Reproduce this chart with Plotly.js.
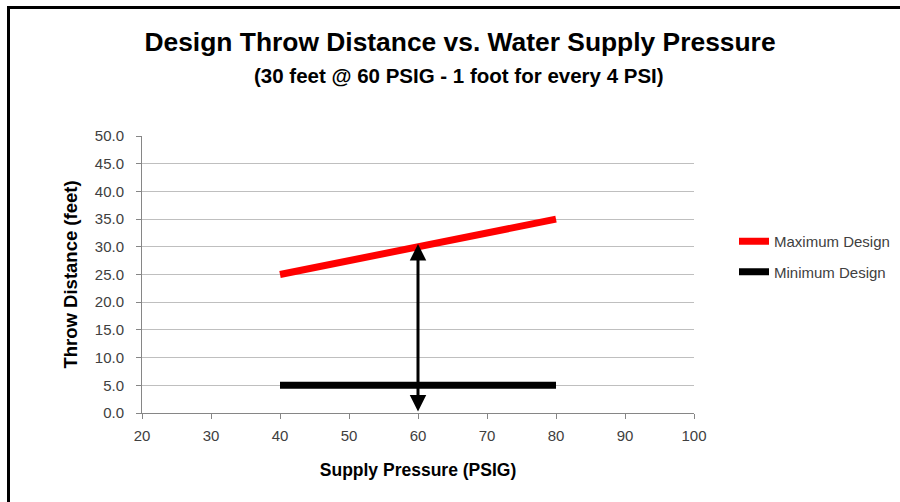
<!DOCTYPE html>
<html>
<head>
<meta charset="utf-8">
<script src="https://cdn.plot.ly/plotly-3.0.1.min.js"></script>
<style>
  html, body { margin: 0; padding: 0; background: #fff; overflow: hidden; }
  #wrap { position: relative; width: 900px; height: 502px; }
  #chart { position: absolute; left: 0; top: 0; width: 900px; height: 502px; }
  #frame { position: absolute; left: 7px; top: 6px; width: 1000px; height: 600px;
           border-left: 3px solid #000; border-top: 3px solid #000; pointer-events: none; }
</style>
</head>
<body>
<div id="wrap">
  <div id="chart"></div>
  <div id="frame"></div>
</div>
<script>
// Data
const pressure = [40, 80];
const maxDesign = [25, 35];
const minDesign = [5, 5];
const seriesNames = ['Maximum Design', 'Minimum Design'];
const arrowX = 60;
const arrowY = [0, 30.5];
const xTicks = [20, 30, 40, 50, 60, 70, 80, 90, 100];
const yTicks = [0, 5, 10, 15, 20, 25, 30, 35, 40, 45, 50];

const FONT = '"Liberation Sans", Arial, sans-serif';
const GRAY = '#404040';

const traces = [
  { x: pressure, y: maxDesign, name: seriesNames[0], mode: 'lines', legendgroup: 'a',
    line: { color: '#ff0000', width: 7 }, hoverinfo: 'x+y' },
  { x: pressure, y: minDesign, name: seriesNames[1], mode: 'lines', legendgroup: 'b',
    line: { color: '#000000', width: 7 }, hoverinfo: 'x+y' }
];

const L = 142, R = 694, T = 136, B = 413;
const PW = R - L, PH = B - T;

const layout = {
  width: 900, height: 502,
  margin: { l: L, r: 900 - R, t: T, b: 502 - B, autoexpand: false },
  paper_bgcolor: '#ffffff', plot_bgcolor: '#ffffff',
  font: { family: FONT, color: GRAY, size: 14 },
  title: {
    text: '<b>Design Throw Distance vs. Water Supply Pressure</b>',
    font: { family: FONT, size: 26.4, color: '#000' },
    x: 460 / 900, xanchor: 'center', xref: 'container',
    y: 1 - 42 / 502, yanchor: 'middle', yref: 'container'
  },
  annotations: [
    { text: '<b>(30 feet @ 60 PSIG - 1 foot for every 4 PSI)</b>',
      xref: 'paper', yref: 'paper', x: (459 - L) / PW, y: (B - 75) / PH,
      xanchor: 'center', yanchor: 'middle', showarrow: false,
      font: { family: FONT, size: 20.5, color: '#000' } },
    { x: arrowX, y: arrowY[1], ax: arrowX, ay: arrowY[0], xref: 'x', yref: 'y',
      axref: 'x', ayref: 'y', text: '', showarrow: true,
      arrowhead: 2, startarrowhead: 2, arrowside: 'end+start',
      arrowsize: 1.1, startarrowsize: 1.1, arrowwidth: 3, arrowcolor: '#000', standoff: 0, startstandoff: 0 }
  ],
  xaxis: {
    range: [20, 100], tickvals: xTicks, ticktext: xTicks.map(String),
    showgrid: false, zeroline: false,
    showline: true, linecolor: '#868686', linewidth: 1,
    ticks: 'outside', ticklen: 5, tickcolor: '#868686', ticklabelstandoff: 4,
    tickfont: { family: FONT, size: 15, color: GRAY },
    title: { text: '<b>Supply Pressure (PSIG)</b>', font: { family: FONT, size: 17.5, color: '#000' }, standoff: 20 },
    fixedrange: true
  },
  yaxis: {
    range: [0, 50], tickvals: yTicks, ticktext: yTicks.map(v => v.toFixed(1)),
    showgrid: true, gridcolor: '#bfbfbf', gridwidth: 1, zeroline: false,
    showline: true, linecolor: '#868686', linewidth: 1,
    ticks: 'outside', ticklen: 5, tickcolor: '#868686', ticklabelstandoff: 9,
    tickfont: { family: FONT, size: 15, color: GRAY },
    title: { text: '<b>Throw Distance (feet)</b>', font: { family: FONT, size: 18.5, color: '#000' }, standoff: 12 },
    fixedrange: true
  },
  showlegend: true,
  legend: {
    x: (734 - L) / PW, xanchor: 'left', y: (B - 225) / PH, yanchor: 'top',
    font: { family: FONT, size: 15, color: GRAY },
    traceorder: 'grouped', tracegroupgap: 8,
    bgcolor: 'rgba(0,0,0,0)', itemwidth: 30
  }
};

Plotly.newPlot('chart', traces, layout, { displayModeBar: false, staticPlot: true });
</script>
</body>
</html>
